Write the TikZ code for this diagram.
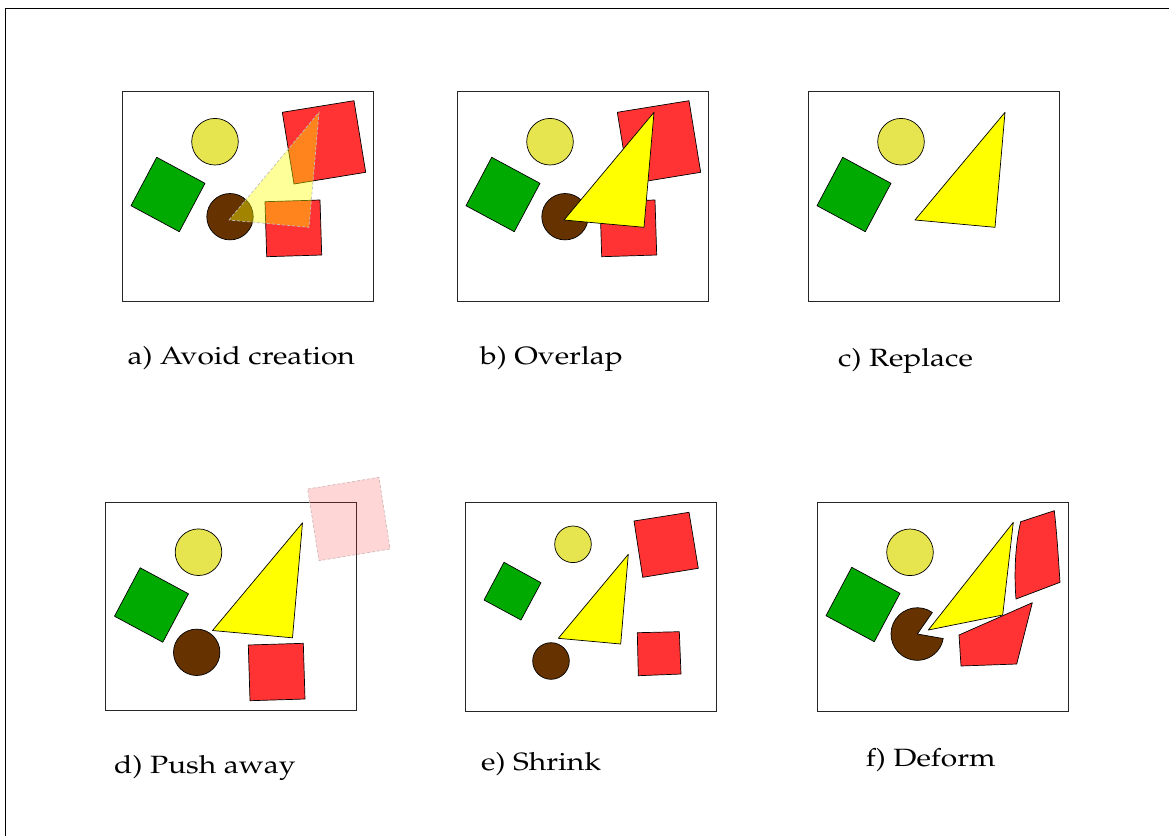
\documentclass[tikz,border=0pt]{standalone}
\usepackage[T1]{fontenc}
\renewcommand{\rmdefault}{ppl}
\definecolor{cyel}{HTML}{E6E44F}
\definecolor{cgrn}{HTML}{00AA00}
\definecolor{cbrn}{HTML}{663300}
\definecolor{cred}{HTML}{FF3333}
\definecolor{ctri}{HTML}{FFFF00}
\begin{document}
\begin{tikzpicture}[x=1pt,y=-1pt,
  obj/.style={draw=black,line width=0.7pt,line join=round},
  panel/.style={draw=black!85,line width=0.9pt},
  ghost/.style={draw=black!25,dashed,line width=0.7pt,dash pattern=on 3pt off 2pt},
  lbl/.style={anchor=base west,inner sep=0pt,font=\fontsize{25}{30}\selectfont}]
\useasboundingbox (0,0) rectangle (1169,836);
\fill[white] (0,0) rectangle (1169,836);
\draw[line width=1pt] (5.7,836) -- (5.7,8.3) -- (1169,8.3);

% ---------- a) Avoid creation ----------
\draw[panel] (122.3,91.7) rectangle (373.3,301);
\filldraw[obj,fill=cyel] (215,141.7) circle (23.3);
\filldraw[obj,fill=cgrn] (156.7,157.3) -- (205,183.3) -- (179.3,231.7) -- (131,205.7) -- cycle;
\filldraw[obj,fill=cbrn] (230,216.7) circle (23.2);
\filldraw[obj,fill=cred] (282.3,112.3) -- (354,100.7) -- (365.7,172.3) -- (294,184) -- cycle;
\filldraw[obj,fill=cred] (265,201.7) -- (320,200) -- (321.7,255) -- (266.7,256.7) -- cycle;
\fill[ctri,fill opacity=0.4] (229,220) -- (319,112.3) -- (309,227.3) -- cycle;
\draw[ghost] (229,220) -- (319,112.3) -- (309,227.3) -- cycle;
\node[lbl] (la) at (127.3,364.5) {\scalebox{1.2}[1]{a) Avoid creation}};

% ---------- b) Overlap ----------
\begin{scope}[shift={(335,0)}]
\draw[panel] (122.3,91.7) rectangle (373.3,301);
\filldraw[obj,fill=cyel] (215,141.7) circle (23.3);
\filldraw[obj,fill=cgrn] (156.7,157.3) -- (205,183.3) -- (179.3,231.7) -- (131,205.7) -- cycle;
\filldraw[obj,fill=cbrn] (230,216.7) circle (23.2);
\filldraw[obj,fill=cred] (282.3,112.3) -- (354,100.7) -- (365.7,172.3) -- (294,184) -- cycle;
\filldraw[obj,fill=cred] (265,201.7) -- (320,200) -- (321.7,255) -- (266.7,256.7) -- cycle;
\filldraw[obj,fill=ctri] (229,220) -- (319,112.3) -- (309,227.3) -- cycle;
\end{scope}
\node[lbl] (lb) at (480,364.5) {\scalebox{1.2}[1]{b) Overlap}};

% ---------- c) Replace ----------
\begin{scope}[shift={(686,0)}]
\draw[panel] (122.3,91.7) rectangle (373.3,301);
\filldraw[obj,fill=cyel] (215,141.7) circle (23.3);
\filldraw[obj,fill=cgrn] (156.7,157.3) -- (205,183.3) -- (179.3,231.7) -- (131,205.7) -- cycle;
\filldraw[obj,fill=ctri] (229,220) -- (319,112.3) -- (309,227.3) -- cycle;
\end{scope}
\node[lbl] (lc) at (838,366.5) {\scalebox{1.2}[1]{c) Replace}};

% ---------- d) Push away ----------
\draw[panel] (105.7,502.3) rectangle (356.7,710.7);
\begin{scope}[shift={(-16.5,410.5)}]
\filldraw[obj,fill=cyel] (215,141.7) circle (23.3);
\filldraw[obj,fill=cgrn] (156.7,157.3) -- (205,183.3) -- (179.3,231.7) -- (131,205.7) -- cycle;
\filldraw[obj,fill=ctri] (229,220) -- (319,112.3) -- (309,227.3) -- cycle;
\end{scope}
\filldraw[obj,fill=cbrn] (196.7,652.3) circle (23.2);
\filldraw[obj,fill=cred] (248.3,645) -- (303.3,643.3) -- (305,699) -- (250,700.7) -- cycle;
\fill[cred,fill opacity=0.2] (307.7,489) -- (379,477.3) -- (390,549) -- (319,560.7) -- cycle;
\draw[ghost,draw=cred!40!black!30] (307.7,489) -- (379,477.3) -- (390,549) -- (319,560.7) -- cycle;
\node[lbl] (ld) at (114,773.5) {\scalebox{1.2}[1]{d) Push away}};

% ---------- e) Shrink ----------
\draw[panel] (465.7,502.3) rectangle (716.7,711);
\filldraw[obj,fill=cyel] (573,544.3) circle (18.3);
\filldraw[obj,fill=cgrn] (504,562.3) -- (541,582.7) -- (521,620) -- (484,600) -- cycle;
\filldraw[obj,fill=cred] (634,521) -- (689,512.3) -- (698.3,568.3) -- (642.7,577.3) -- cycle;
\filldraw[obj,fill=ctri] (558.3,638.3) -- (628.3,554.3) -- (620.7,644) -- cycle;
\filldraw[obj,fill=cbrn] (551,661) circle (18.3);
\filldraw[obj,fill=cred] (637.3,632.7) -- (679.3,631.7) -- (681,674) -- (638.3,675.7) -- cycle;
\node[lbl] (le) at (481,770.5) {\scalebox{1.2}[1]{e) Shrink}};

% ---------- f) Deform ----------
\draw[panel] (817.3,502.3) rectangle (1068.3,711);
\filldraw[obj,fill=cyel] (910,552.3) circle (23.3);
\filldraw[obj,fill=cgrn] (851.7,567.3) -- (900,593.3) -- (874.3,641.7) -- (826,615.7) -- cycle;
\filldraw[obj,fill=cbrn] (917.3,634) -- +(-55:26.3) arc[start angle=-55,end angle=-350,radius=26.3] -- cycle;
\filldraw[obj,fill=ctri] (928.3,630) -- (1013.3,522.3) -- (1002.7,615) -- cycle;
\filldraw[obj,fill=cred] (1020.7,521.7) -- (1054.3,510.7) .. controls (1057,535) and (1058.5,560) .. (1060,582.3) -- (1016,599) .. controls (1014,575) and (1015,545) .. cycle;
\filldraw[obj,fill=cred] (959,635) -- (1032.3,602.7) -- (1016.7,664) -- (961,666) -- cycle;
\node[lbl] (lf) at (865.7,766.5) {\scalebox{1.2}[1]{f) Deform}};
\end{tikzpicture}
\end{document}
